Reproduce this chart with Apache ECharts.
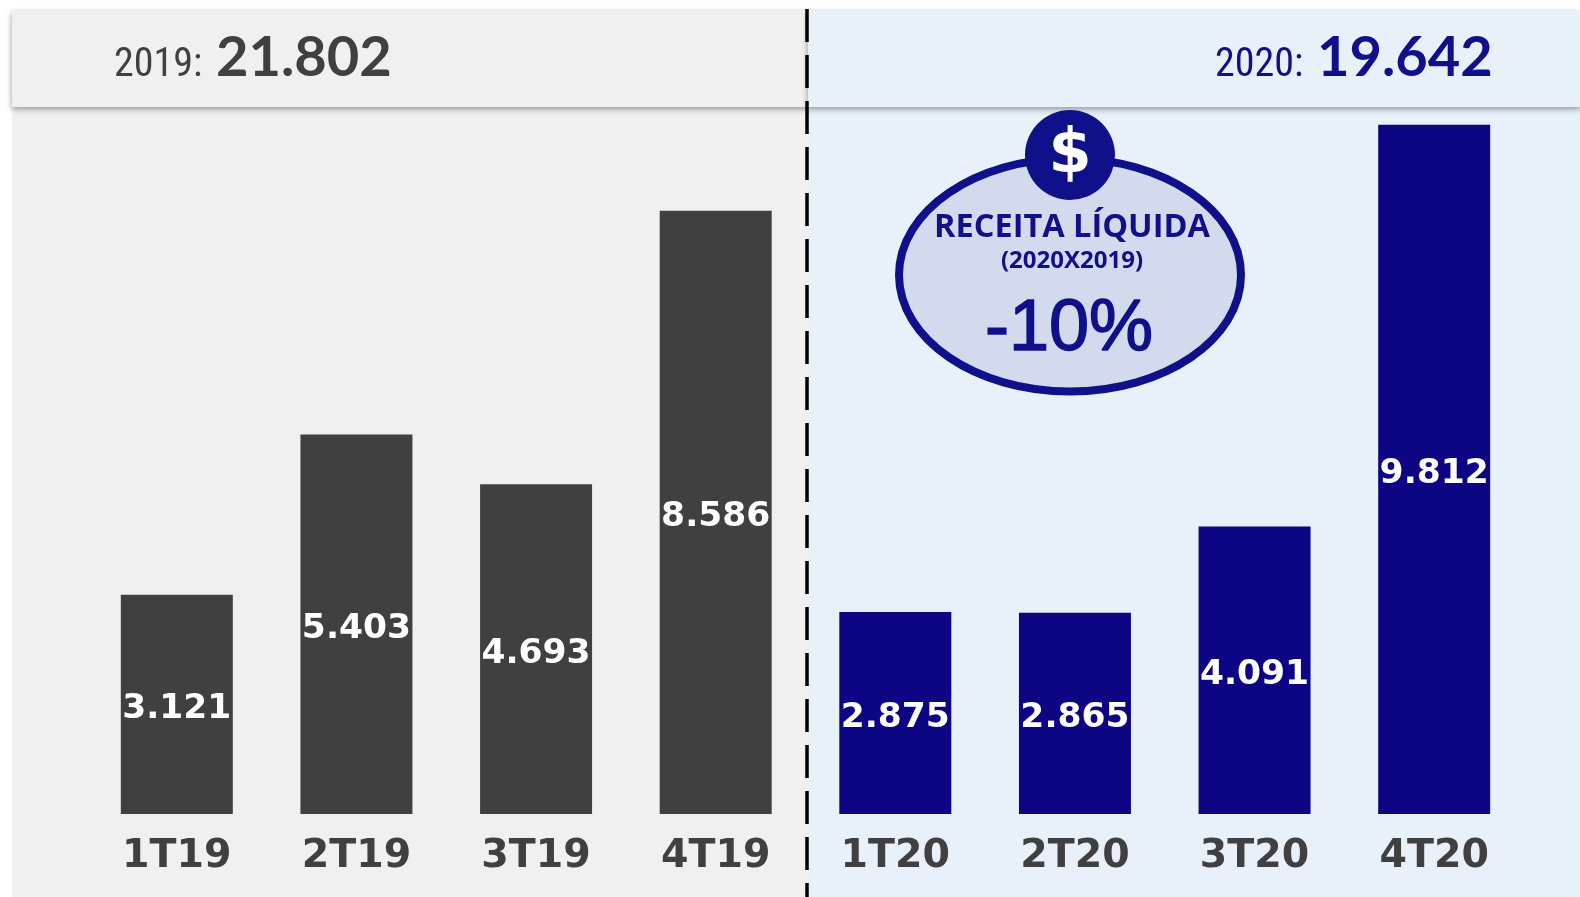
<!DOCTYPE html>
<html><head><meta charset="utf-8">
<style>html,body{margin:0;padding:0;background:#fff}#c{width:1580px;height:897px}</style>
<script src="https://cdn.jsdelivr.net/npm/echarts@6/dist/echarts.min.js"></script>
</head><body><div id="c"></div>
<script>
const categories=['1T19','2T19','3T19','4T19','1T20','2T20','3T20','4T20'];
const values=[3121,5403,4693,8586,2875,2865,4091,9812];
const total2019='21.802', total2020='19.642';
const GREY='#404040', NAVY='#0d0684', TEXTNAVY='#10108a';
const ptBR=v=>{const s=String(v);return s.slice(0,-3)+'.'+s.slice(-3)};
const FONT='"DejaVu Sans"';
const NARROW='"Roboto Condensed", Roboto';
const chart=echarts.init(document.getElementById('c'),null,{renderer:'canvas'});
chart.setOption({
 animation:false,
 backgroundColor:'#fff',
 grid:{left:87,width:1437,top:111.5,bottom:83},
 xAxis:{type:'category',data:categories,axisLine:{show:false},axisTick:{show:false},
  axisLabel:{color:GREY,fontFamily:FONT,fontWeight:700,fontSize:39.5,margin:23,interval:0}},
 yAxis:{type:'value',min:0,max:10000,show:false,splitLine:{show:false}},
 graphic:{elements:[
  {type:'rect',z:-2,silent:true,shape:{x:12,y:11,width:796,height:886},style:{fill:'#f0f0f0'}},
  {type:'rect',z:-2,silent:true,shape:{x:808,y:11,width:772,height:886},style:{fill:'#e8f0fa'}},
  {type:'rect',z:-1,silent:true,shape:{x:12,y:11,width:796,height:96},style:{fill:'#f0f0f0',shadowBlur:6,shadowOffsetY:2,shadowColor:'rgba(0,0,0,.4)'}},
  {type:'rect',z:-1,silent:true,shape:{x:808,y:11,width:772,height:96},style:{fill:'#e8f0fa',shadowBlur:6,shadowOffsetY:2,shadowColor:'rgba(0,0,0,.4)'}},
  {type:'line',z:5,silent:true,shape:{x1:807,y1:9,x2:807,y2:897},style:{stroke:'#000',lineWidth:3.5,lineDash:[33,13]}},
  {type:'text',z:6,silent:true,x:114,y:66,style:{text:'2019:',fill:GREY,font:'40px '+NARROW,verticalAlign:'middle'}},
  {type:'text',z:6,silent:true,x:216,y:58,style:{text:total2019,fill:GREY,font:'bold 56px Lato',verticalAlign:'middle'}},
  {type:'text',z:6,silent:true,x:1215,y:66,style:{text:'2020:',fill:TEXTNAVY,font:'40px '+NARROW,verticalAlign:'middle'}},
  {type:'text',z:6,silent:true,x:1317,y:58,style:{text:total2020,fill:TEXTNAVY,font:'bold 56px Lato',verticalAlign:'middle'}},
  {type:'ellipse',z:6,silent:true,shape:{cx:1070,cy:275,rx:171,ry:116.5},style:{fill:'#d4daed',stroke:TEXTNAVY,lineWidth:8}},
  {type:'circle',z:7,silent:true,shape:{cx:1070,cy:155,r:45},style:{fill:TEXTNAVY}},
  {type:'text',z:8,silent:true,x:1070,y:156,style:{text:'$',fill:'#fff',font:'bold 62px "DejaVu Sans"',align:'center',verticalAlign:'middle'}},
  {type:'text',z:8,silent:true,x:1072,y:228,style:{text:'RECEITA LÍQUIDA',fill:TEXTNAVY,font:'bold 32.5px "Open Sans"',align:'center',verticalAlign:'middle'}},
  {type:'text',z:8,silent:true,x:1072,y:261,style:{text:'(2020X2019)',fill:TEXTNAVY,font:'bold 24px "Open Sans"',align:'center',verticalAlign:'middle'}},
  {type:'text',z:8,silent:true,x:1069,y:330,style:{text:'-10%',fill:TEXTNAVY,font:'72px "Liberation Sans"',align:'center',verticalAlign:'middle',stroke:TEXTNAVY,lineWidth:1.5}}
 ]},
 series:[{type:'bar',barWidth:112,
  data:values.map((v,i)=>({value:v,itemStyle:{color:i<4?GREY:NAVY}})),
  label:{show:true,position:'inside',offset:[0,5],color:'#fff',fontFamily:FONT,fontWeight:700,fontSize:34.5,
   formatter:p=>ptBR(p.value)}}]
});
</script></body></html>
